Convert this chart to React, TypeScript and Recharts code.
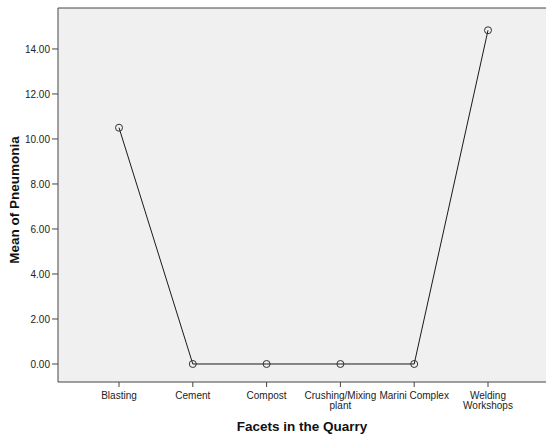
import React from "react";
import { LineChart, Line, XAxis, YAxis, CartesianGrid, ReferenceLine, Label } from "recharts";

const categories = [
  "Blasting",
  "Cement",
  "Compost",
  "Crushing/Mixing\nplant",
  "Marini Complex",
  "Welding\nWorkshops",
];
const meanPneumonia = [10.5, 0, 0, 0, 0, 14.83];
const yTicks = [0, 2, 4, 6, 8, 10, 12, 14];
const yDomain = [-0.8, 15.82];

const data = categories.map((c, i) => ({ category: c, value: meanPneumonia[i] }));

const FONT = "'Liberation Sans', Arial, sans-serif";

const XTick = (props: any) => {
  const { x, y, payload } = props;
  const lines = String(payload.value).split("\n");
  return (
    <g>
      {lines.map((l: string, i: number) => (
        <text
          key={i}
          x={x}
          y={y + 10 + i * 10}
          textAnchor="middle"
          fontSize={10}
          fontFamily={FONT}
          fill="#222"
        >
          {l}
        </text>
      ))}
    </g>
  );
};

const YTitle = (props: any) => {
  const vb = props.viewBox || {};
  const cx = 14.5;
  const cy = (vb.y ?? 0) + (vb.height ?? 0) / 2 + 5;
  return (
    <text
      x={cx}
      y={cy}
      transform={`rotate(-90 ${cx} ${cy})`}
      textAnchor="middle"
      dominantBaseline="central"
      fontFamily={FONT}
      fontSize={13.5}
      fontWeight="bold"
      fill="#111"
    >
      Mean of Pneumonia
    </text>
  );
};

export default function App() {
  return (
    <div style={{ position: "absolute", left: 0, top: 0, width: 546, height: 434, background: "#fff" }}>
      <LineChart
        width={546}
        height={434}
        data={data}
        margin={{ top: 8, right: 0, left: 0, bottom: 0 }}
      >
        <CartesianGrid fill="#f0f0f0" horizontal={false} vertical={false} />
        <XAxis
          dataKey="category"
          interval={0}
          padding={{ left: 61, right: 58 }}
          height={52}
          tickSize={5}
          tick={<XTick />}
          axisLine={{ stroke: "#444", strokeWidth: 1 }}
          tickLine={{ stroke: "#444" }}
        >
          <Label
            value="Facets in the Quarry"
            position="insideBottom"
            offset={3}
            style={{ fontFamily: FONT, fontSize: 13.5, fontWeight: "bold", fill: "#111" }}
          />
        </XAxis>
        <YAxis
          type="number"
          domain={yDomain}
          allowDataOverflow
          ticks={yTicks}
          width={58}
          tickSize={6}
          tickMargin={2}
          tickFormatter={(v: number) => v.toFixed(2)}
          tick={{ fontSize: 10, fontFamily: FONT, fill: "#222" }}
          axisLine={{ stroke: "#444", strokeWidth: 1 }}
          tickLine={{ stroke: "#444" }}
        >
          <Label content={<YTitle />} />
        </YAxis>
        <ReferenceLine y={yDomain[1]} stroke="#444" strokeWidth={1} />
        <Line
          type="linear"
          dataKey="value"
          stroke="#1a1a1a"
          strokeWidth={1}
          dot={{ r: 3.5, stroke: "#333", strokeWidth: 1, fill: "none" }}
          activeDot={false}
          isAnimationActive={false}
        />
      </LineChart>
    </div>
  );
}
